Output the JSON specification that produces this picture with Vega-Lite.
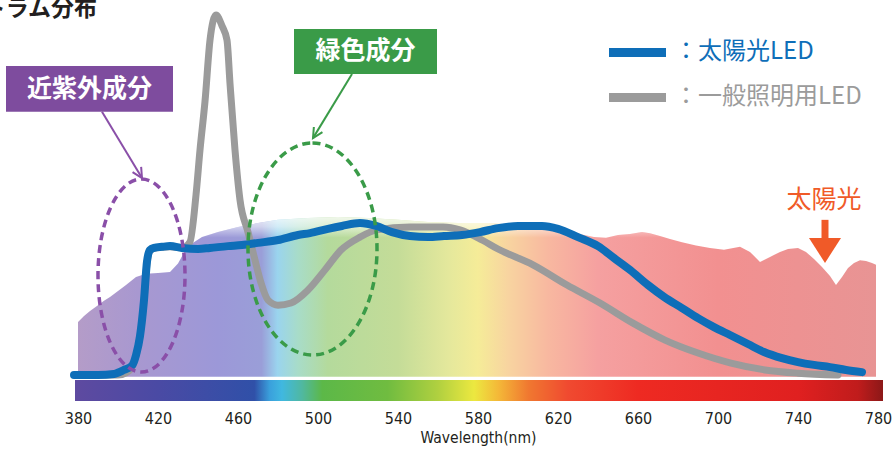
{
  "$schema": "https://vega.github.io/schema/vega-lite/v6.json",
  "width": 800,
  "height": 402,
  "autosize": {"type": "none"},
  "padding": {"left": 78, "right": 18, "top": 0, "bottom": 48},
  "background": "white",
  "config": {"view": {"stroke": null}, "font": "Noto Sans CJK JP"},
  "datasets": {
    "sun": [
      {"x": 380, "y": 14.7}, {"x": 383, "y": 16.4}, {"x": 386, "y": 17.8}, {"x": 390, "y": 19.4},
      {"x": 393, "y": 20.6}, {"x": 396, "y": 21.7}, {"x": 400, "y": 23.3}, {"x": 404, "y": 25.0},
      {"x": 409, "y": 27.2}, {"x": 414, "y": 28.1}, {"x": 420, "y": 28.3}, {"x": 426, "y": 28.6},
      {"x": 430, "y": 31.0}, {"x": 433, "y": 34.0}, {"x": 437, "y": 36.5}, {"x": 442, "y": 38.3},
      {"x": 450, "y": 39.7}, {"x": 460, "y": 41.1}, {"x": 470, "y": 42.2}, {"x": 480, "y": 43.1},
      {"x": 495, "y": 43.6}, {"x": 510, "y": 43.9}, {"x": 525, "y": 43.6}, {"x": 540, "y": 43.1},
      {"x": 555, "y": 42.5}, {"x": 570, "y": 42.2}, {"x": 585, "y": 42.2}, {"x": 600, "y": 41.7},
      {"x": 615, "y": 41.1}, {"x": 625, "y": 40.0}, {"x": 632, "y": 39.0}, {"x": 638, "y": 38.3},
      {"x": 644, "y": 38.1}, {"x": 650, "y": 38.9}, {"x": 656, "y": 39.2}, {"x": 662, "y": 39.7},
      {"x": 666, "y": 39.4}, {"x": 671, "y": 38.6}, {"x": 676, "y": 37.8}, {"x": 682, "y": 36.9},
      {"x": 689, "y": 36.0}, {"x": 696, "y": 35.3}, {"x": 703, "y": 34.8}, {"x": 711, "y": 35.6},
      {"x": 716, "y": 34.2}, {"x": 721, "y": 31.4}, {"x": 726, "y": 32.8}, {"x": 731, "y": 34.2},
      {"x": 735, "y": 35.0}, {"x": 740, "y": 35.3}, {"x": 744, "y": 34.2}, {"x": 748, "y": 32.2},
      {"x": 752, "y": 30.0}, {"x": 756, "y": 27.5}, {"x": 759, "y": 25.0}, {"x": 762, "y": 27.2},
      {"x": 765, "y": 29.7}, {"x": 768, "y": 31.1}, {"x": 771, "y": 31.9}, {"x": 774, "y": 31.7},
      {"x": 777, "y": 31.1}, {"x": 779, "y": 30.6}
    ],
    "solarLED": [
      {"x": 378, "y": 0}, {"x": 390, "y": 0}, {"x": 398, "y": 0.3}, {"x": 403, "y": 1.4},
      {"x": 407, "y": 2.6}, {"x": 409, "y": 5.5}, {"x": 411, "y": 10.8}, {"x": 413, "y": 20.8},
      {"x": 414.5, "y": 31.5}, {"x": 416, "y": 34.7}, {"x": 418, "y": 35.3}, {"x": 422, "y": 35.6},
      {"x": 426, "y": 35.8}, {"x": 432, "y": 35.3}, {"x": 440, "y": 35.0}, {"x": 446, "y": 35.3},
      {"x": 455, "y": 35.8}, {"x": 462, "y": 36.1}, {"x": 470, "y": 36.7}, {"x": 480, "y": 37.5},
      {"x": 490, "y": 38.9}, {"x": 496, "y": 39.4}, {"x": 505, "y": 40.6}, {"x": 512, "y": 41.4},
      {"x": 521, "y": 42.2}, {"x": 529, "y": 41.4}, {"x": 537, "y": 39.7}, {"x": 546, "y": 38.6},
      {"x": 555, "y": 38.3}, {"x": 563, "y": 38.6}, {"x": 572, "y": 38.9}, {"x": 581, "y": 39.7},
      {"x": 590, "y": 40.8}, {"x": 600, "y": 41.4}, {"x": 612, "y": 41.4}, {"x": 620, "y": 40.6},
      {"x": 630, "y": 38.3}, {"x": 640, "y": 35.8}, {"x": 648, "y": 32.5}, {"x": 656, "y": 29.2},
      {"x": 665, "y": 25.0}, {"x": 673, "y": 21.7}, {"x": 682, "y": 18.6}, {"x": 690, "y": 15.8},
      {"x": 698, "y": 13.3}, {"x": 706, "y": 11.1}, {"x": 715, "y": 8.6}, {"x": 723, "y": 6.4},
      {"x": 732, "y": 4.7}, {"x": 740, "y": 3.6}, {"x": 748, "y": 2.8}, {"x": 756, "y": 2.2},
      {"x": 764, "y": 1.4}, {"x": 772, "y": 0.8}
    ],
    "generalLED": [
      {"x": 380, "y": 0}, {"x": 400, "y": 0}, {"x": 404, "y": 0.6}, {"x": 407, "y": 2.2},
      {"x": 409, "y": 5.3}, {"x": 411, "y": 10.6}, {"x": 413, "y": 20.5}, {"x": 414.5, "y": 31.0},
      {"x": 416, "y": 34.5}, {"x": 418, "y": 35.2}, {"x": 422, "y": 35.5}, {"x": 426, "y": 35.6},
      {"x": 432, "y": 35.3}, {"x": 436, "y": 37.0},
      {"x": 439, "y": 50}, {"x": 441, "y": 62.5}, {"x": 443.5, "y": 76}, {"x": 446, "y": 93},
      {"x": 449, "y": 100}, {"x": 452, "y": 97}, {"x": 454.5, "y": 93}, {"x": 456, "y": 81},
      {"x": 458.5, "y": 62.5}, {"x": 461, "y": 48.6}, {"x": 465, "y": 39.7}, {"x": 468.5, "y": 31.9},
      {"x": 471.5, "y": 25.6}, {"x": 475, "y": 20.8}, {"x": 480, "y": 19.4}, {"x": 486.5, "y": 20.0},
      {"x": 495, "y": 23.6}, {"x": 503.5, "y": 29.2}, {"x": 511.5, "y": 34.7}, {"x": 521, "y": 38.3},
      {"x": 529.5, "y": 40.3}, {"x": 546, "y": 41.1}, {"x": 562.5, "y": 41.1}, {"x": 571, "y": 40.3},
      {"x": 582, "y": 37.5}, {"x": 590, "y": 35.0}, {"x": 607.5, "y": 30.6}, {"x": 624.5, "y": 25.0},
      {"x": 641, "y": 20.0}, {"x": 657.5, "y": 14.4}, {"x": 673.5, "y": 9.7}, {"x": 690, "y": 6.1},
      {"x": 706.5, "y": 3.3}, {"x": 723.5, "y": 1.4}, {"x": 740, "y": 0.5}, {"x": 760, "y": 0}
    ]
  },
  "encoding": {
    "x": {"field": "x", "type": "quantitative",
      "scale": {"domain": [380, 780], "nice": false, "zero": false},
      "axis": {"values": [380, 420, 460, 500, 540, 580, 620, 660, 700, 740, 780],
        "title": "Wavelength(nm)", "grid": false, "domain": false, "ticks": false, "tickSize": 0,
        "labelFont": "DejaVu Sans Condensed, Roboto Condensed, Roboto", "labelFontSize": 16, "labelColor": "#231f20",
        "labelPadding": 8, "labelFlush": false,
        "titleFont": "DejaVu Sans Condensed, Roboto Condensed, Roboto", "titleFontSize": 15.5, "titleFontWeight": "normal",
        "titleColor": "#231f20", "titlePadding": 4}},
    "y": {"field": "y", "type": "quantitative",
      "scale": {"domain": [-7.5, 104.1667], "nice": false, "zero": false}, "axis": null}
  },
  "layer": [
    {
      "data": {"name": "sun"},
      "mark": {"type": "area", "interpolate": "linear",
        "fill": {"gradient": "linear", "x1": 0, "x2": 1, "y1": 0, "y2": 0, "stops": [
          {"offset": 0, "color": "#b49cc8"}, {"offset": 0.075, "color": "#a898d0"},
          {"offset": 0.175, "color": "#9c98d8"}, {"offset": 0.23, "color": "#9a9ed8"},
          {"offset": 0.25, "color": "#9ad4ee"}, {"offset": 0.276, "color": "#a8dcc8"},
          {"offset": 0.313, "color": "#b4da9c"}, {"offset": 0.401, "color": "#c4dc98"},
          {"offset": 0.464, "color": "#e4e89c"}, {"offset": 0.501, "color": "#f5ec98"},
          {"offset": 0.539, "color": "#f8d4a0"}, {"offset": 0.589, "color": "#f8b8a0"},
          {"offset": 0.652, "color": "#f5a0a0"}, {"offset": 0.802, "color": "#f29090"},
          {"offset": 1, "color": "#e89494"}]}},
      "encoding": {"y2": {"datum": -0.5}}
    },
    {
      "data": {"name": "sun"},
      "mark": {"type": "area", "interpolate": "linear",
        "fill": {"gradient": "linear", "x1": 0, "x2": 0, "y1": 0, "y2": 1, "stops": [
          {"offset": 0, "color": "rgba(255,255,255,0.8)"}, {"offset": 0.06, "color": "rgba(255,255,255,0.55)"},
          {"offset": 0.13, "color": "rgba(255,255,255,0)"}, {"offset": 1, "color": "rgba(255,255,255,0)"}]}},
      "encoding": {"y2": {"datum": -0.5}}
    },
    {
      "data": {"values": [{"x": 378.5, "x2": 782.5, "y": -1.4, "y2": -7.2}]},
      "mark": {"type": "rect",
        "fill": {"gradient": "linear", "x1": 0, "x2": 1, "y1": 0, "y2": 0, "stops": [
          {"offset": 0, "color": "#5e4aa0"}, {"offset": 0.103, "color": "#4a4aa4"},
          {"offset": 0.222, "color": "#3050a8"}, {"offset": 0.241, "color": "#3aa0dc"},
          {"offset": 0.256, "color": "#40b8e0"}, {"offset": 0.281, "color": "#50b8a0"},
          {"offset": 0.306, "color": "#5cb848"}, {"offset": 0.387, "color": "#70bc40"},
          {"offset": 0.449, "color": "#b0d040"}, {"offset": 0.494, "color": "#ece840"},
          {"offset": 0.524, "color": "#f4b838"}, {"offset": 0.561, "color": "#f07830"},
          {"offset": 0.61, "color": "#f04a30"}, {"offset": 0.697, "color": "#ee2a22"},
          {"offset": 0.895, "color": "#e02020"}, {"offset": 0.969, "color": "#c01c1c"},
          {"offset": 1, "color": "#8c1818"}]}},
      "encoding": {"x2": {"field": "x2"}, "y2": {"field": "y2"}}
    },
    {
      "data": {"name": "generalLED"},
      "mark": {"type": "line", "interpolate": "monotone", "color": "#9b9b9b", "strokeWidth": 7, "strokeCap": "round"}
    },
    {
      "data": {"name": "solarLED"},
      "mark": {"type": "line", "interpolate": "monotone", "color": "#0e6eb8", "strokeWidth": 8, "strokeCap": "round"}
    },
    {
      "data": {"values": [{"x": 411.75, "y": 27.64}]},
      "mark": {"type": "point", "filled": false, "color": "#8a4fa8", "strokeWidth": 3.5, "strokeDash": [8, 5], "opacity": 1, "size": 37249,
        "shape": "M0,-1C0.249,-1 0.4508,-0.5523 0.4508,0C0.4508,0.5523 0.249,1 0,1C-0.249,1 -0.4508,0.5523 -0.4508,0C-0.4508,-0.5523 -0.249,-1 0,-1Z"}
    },
    {
      "data": {"values": [{"x": 497.25, "y": 35.0}]},
      "mark": {"type": "point", "filled": false, "color": "#3a9b48", "strokeWidth": 3.5, "strokeDash": [8, 5], "opacity": 1, "size": 44944,
        "shape": "M0,-1C0.3361,-1 0.6085,-0.5523 0.6085,0C0.6085,0.5523 0.3361,1 0,1C-0.3361,1 -0.6085,0.5523 -0.6085,0C-0.6085,-0.5523 -0.3361,-1 0,-1Z"}
    },
    {
      "data": {"values": [{"x": 392, "y": 73.1, "x2": 412, "y2": 54.7}]},
      "mark": {"type": "rule", "color": "#8a4fa8", "strokeWidth": 2},
      "encoding": {"x2": {"field": "x2"}, "y2": {"field": "y2"}}
    },
    {
      "data": {"values": [{"x": 412, "y": 54.7}]},
      "mark": {"type": "point", "filled": false, "color": "#8a4fa8", "strokeWidth": 2, "opacity": 1, "size": 400, "angle": -31,
        "shape": "M-0.5,-1L0,0L0.5,-1"}
    },
    {
      "data": {"values": [{"x": 517, "y": 83.6, "x2": 497.5, "y2": 65.8}]},
      "mark": {"type": "rule", "color": "#3a9b48", "strokeWidth": 2},
      "encoding": {"x2": {"field": "x2"}, "y2": {"field": "y2"}}
    },
    {
      "data": {"values": [{"x": 497.5, "y": 65.8}]},
      "mark": {"type": "point", "filled": false, "color": "#3a9b48", "strokeWidth": 2, "opacity": 1, "size": 400, "angle": 31,
        "shape": "M-0.5,-1L0,0L0.5,-1"}
    },
    {
      "data": {"values": [{"x": 344, "x2": 427.5, "y": 85.8, "y2": 73.1}]},
      "mark": {"type": "rect", "color": "#7e4c9e"},
      "encoding": {"x2": {"field": "x2"}, "y2": {"field": "y2"}}
    },
    {
      "data": {"values": [{"x": 488, "x2": 559.5, "y": 96.1, "y2": 83.6}]},
      "mark": {"type": "rect", "color": "#3a9b48"},
      "encoding": {"x2": {"field": "x2"}, "y2": {"field": "y2"}}
    },
    {
      "data": {"values": [{"x": 385.75, "y": 79.4, "label": "近紫外成分"}, {"x": 523.75, "y": 89.9, "label": "緑色成分"}]},
      "mark": {"type": "text", "color": "white", "fontSize": 25, "fontWeight": "bold", "align": "center", "baseline": "middle", "font": "Noto Sans CJK JP"},
      "encoding": {"text": {"field": "label"}}
    },
    {
      "data": {"values": [{"x": 645.5, "x2": 674, "y": 89.6, "series": "太陽光LED"}, {"x": 645.5, "x2": 674, "y": 77.1, "series": "一般照明用LED"}]},
      "mark": {"type": "rule", "strokeWidth": 9},
      "encoding": {"x2": {"field": "x2"},
        "color": {"field": "series", "type": "nominal", "scale": {"domain": ["太陽光LED", "一般照明用LED"], "range": ["#0e6eb8", "#9b9b9b"]}, "legend": null}}
    },
    {
      "data": {"values": [{"x": 678, "y": 89.6, "series": "太陽光LED", "label": "：太陽光LED"}, {"x": 678, "y": 77.1, "series": "一般照明用LED", "label": "：一般照明用LED"}]},
      "mark": {"type": "text", "fontSize": 24, "align": "left", "baseline": "middle", "font": "Noto Sans CJK JP"},
      "encoding": {"text": {"field": "label"},
        "color": {"field": "series", "type": "nominal", "scale": {"domain": ["太陽光LED", "一般照明用LED"], "range": ["#0e6eb8", "#a0a0a0"]}, "legend": null}}
    },
    {
      "data": {"values": [{"x": 753, "y": 48.6, "label": "太陽光"}]},
      "mark": {"type": "text", "color": "#f05a28", "fontSize": 25, "align": "center", "baseline": "middle", "font": "Noto Sans CJK JP"},
      "encoding": {"text": {"field": "label"}}
    },
    {
      "data": {"values": [{"x": 753.5, "y": 43.1, "y2": 37.6}]},
      "mark": {"type": "rule", "color": "#f05a28", "strokeWidth": 7},
      "encoding": {"y2": {"field": "y2"}}
    },
    {
      "data": {"values": [{"x": 753.5, "y": 38.06}]},
      "mark": {"type": "point", "filled": true, "color": "#f05a28", "opacity": 1, "size": 1024, "shape": "M-1,0L1,0L0,1.56Z"}
    },
    {
      "data": {"values": [{"x": 389.5, "y": 101.6, "label": "スペクトラム分布"}]},
      "mark": {"type": "text", "color": "#231f20", "fontSize": 23, "fontWeight": "bold", "align": "right", "baseline": "middle", "font": "Noto Sans CJK JP"},
      "encoding": {"text": {"field": "label"}}
    }
  ]
}
